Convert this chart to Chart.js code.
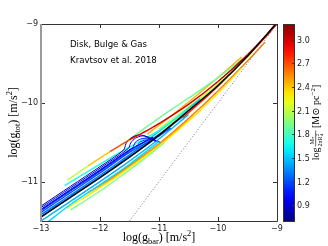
<!DOCTYPE html>
<html>
<head>
<meta charset="utf-8">
<script src="https://cdn.jsdelivr.net/npm/chart.js@4.4.1/dist/chart.umd.min.js"></script>
<style>
  body { margin: 0; background: #fff; }
</style>
</head>
<body>
<canvas id="rar" width="328" height="246"></canvas>
<script>
// axis ticks
const xTicks = [-13, -12, -11, -10, -9];
const yTicks = [-11, -10, -9];
const cbTicks = [0.9, 1.2, 1.5, 1.8, 2.1, 2.4, 2.7, 3.0];
const cMin = 0.7, cMax = 3.2;

// radial acceleration relation (black)
const rarX = [-13, -12.5, -12, -11.5, -11, -10.5, -10, -9.5, -9];
const rarY = [-11.45, -11.20, -10.95, -10.69, -10.41, -10.10, -9.78, -9.41, -8.98];

// upper line, coloured along its length
const upperX = [-12.55, -12.2, -11.83, -11.5, -11.1, -10.5, -10, -9.5, -9];
const upperY = [-10.98, -10.80, -10.62, -10.47, -10.31, -10.02, -9.73, -9.39, -9.0];
const upperC = [2.1, 2.4, 2.7, 2.9, 3.0, 3.0, 3.05, 3.1, 3.15];

// 1:1 line
const unityX = [-11.5, -9];
const unityY = [-11.5, -9];

// the coloured band of model curves
const bandC = [0.85, 0.95, 1.05, 1.15, 1.0, 1.2, 1.3, 1.38, 1.45, 1.55, 1.7, 1.5,
  1.9, 2.1, 2.2, 1.95, 2.3, 2.5, 2.6, 2.8, 2.45];
const bandX = [
  [-13, -12.5, -12, -11.6, -11.56, -11.48, -11.36, -11.24, -11.14],
  [-13, -12.5, -12, -11.52, -11.48, -11.40, -11.28, -11.16, -11.05],
  [-13, -12.5, -12, -11.45, -11.40, -11.31, -11.19, -11.06],
  [-13, -12.5, -12, -11.4, -11.32, -11.22, -11.1, -10.98],
  [-13, -12.5, -12, -11.5, -11.1],
  [-13, -12.5, -12, -11.5, -11, -10.8],
  [-13, -12.5, -12, -11.5, -11, -10.6],
  [-13, -12.5, -12, -11.5, -11, -10.7],
  [-13, -12.5, -12, -11.5, -11, -10.5],
  [-12.9, -12.5, -12, -11.5, -11],
  [-12.6, -12.2, -11.8, -11.4, -11, -10.5],
  [-11.5, -11.1, -10.7, -10.3],
  [-11.6, -11.2, -10.8, -10.4, -10, -9.6],
  [-11, -10.6, -10.2, -9.8, -9.4],
  [-11.4, -11, -10.6, -10.2, -9.8],
  [-12.5, -12.1, -11.7, -11.3, -10.9],
  [-12.56, -12.2, -11.8, -11.4, -11, -10.5, -10, -9.6],
  [-12.3, -11.9, -11.5, -11.1, -10.7, -10.3],
  [-12.2, -11.8, -11.4, -11, -10.5, -10, -9.5, -9.2],
  [-10.6, -10.2, -9.8, -9.4, -9.1],
  [-11.2, -10.8, -10.4, -10, -9.6]
];
const bandY = [
  [-11.31, -11.06, -10.81, -10.60, -10.52, -10.45, -10.41, -10.42, -10.46],
  [-11.33, -11.08, -10.83, -10.58, -10.51, -10.45, -10.42, -10.44, -10.48],
  [-11.35, -11.10, -10.85, -10.57, -10.50, -10.46, -10.45, -10.49],
  [-11.37, -11.12, -10.87, -10.56, -10.50, -10.47, -10.47, -10.50],
  [-11.36, -11.11, -10.86, -10.60, -10.44],
  [-11.39, -11.14, -10.89, -10.63, -10.42, -10.32],
  [-11.42, -11.17, -10.92, -10.66, -10.40, -10.18],
  [-11.44, -11.19, -10.94, -10.68, -10.42, -10.23],
  [-11.50, -11.25, -11.00, -10.74, -10.46, -10.15],
  [-11.52, -11.29, -11.04, -10.78, -10.49],
  [-11.05, -10.87, -10.69, -10.52, -10.35, -10.08],
  [-10.62, -10.42, -10.19, -9.95],
  [-10.52, -10.30, -10.09, -9.89, -9.68, -9.45],
  [-10.33, -10.11, -9.88, -9.63, -9.35],
  [-10.58, -10.37, -10.14, -9.90, -9.64],
  [-11.36, -11.17, -10.96, -10.74, -10.50],
  [-11.34, -11.17, -10.98, -10.77, -10.55, -10.23, -9.88, -9.56],
  [-11.22, -11.02, -10.81, -10.59, -10.35, -10.10],
  [-11.14, -10.95, -10.74, -10.52, -10.20, -9.85, -9.47, -9.23],
  [-10.19, -9.93, -9.64, -9.33, -9.09],
  [-10.40, -10.17, -9.93, -9.68, -9.42]
];

function jet(v) {
  const t = (v - cMin) / (cMax - cMin);
  const f = z => Math.max(0, Math.min(1, z));
  const r = f(1.5 - Math.abs(4 * t - 3));
  const g = f(1.5 - Math.abs(4 * t - 2));
  const b = f(1.5 - Math.abs(4 * t - 1));
  return 'rgb(' + Math.round(r * 255) + ',' + Math.round(g * 255) + ',' + Math.round(b * 255) + ')';
}

function pts(xs, ys) {
  return xs.map((v, i) => ({ x: v, y: ys[i] }));
}

const datasets = [];
datasets.push({ data: pts(rarX, rarY), borderColor: '#000', borderWidth: 1.5, order: 0 });
datasets.push({
  data: pts(upperX, upperY), borderWidth: 1.5, order: 1, borderColor: jet(3.0),
  segment: { borderColor: c => jet(upperC[c.p0DataIndex]) }
});
datasets.push({ data: pts(unityX, unityY), borderColor: '#777', borderWidth: 1, borderDash: [1, 2], order: 2 });
bandC.forEach((c, i) => {
  datasets.push({
    data: pts(bandX[i], bandY[i]), borderColor: jet(c),
    borderWidth: i < 4 ? 1 : 1.4, order: 3 + i
  });
});

const serif = "'Liberation Serif', 'DejaVu Serif', serif";
const sans = "'DejaVu Sans', sans-serif";

// draws text with sub/superscripts, centred at (cx, base)
function drawRich(ctx, parts, cx, base, size) {
  let w = 0;
  parts.forEach(p => {
    ctx.font = (p.s ? size * 0.7 : size) + 'px ' + serif;
    p.w = ctx.measureText(p.t).width;
    w += p.w;
  });
  let xx = cx - w / 2;
  ctx.textAlign = 'left';
  ctx.textBaseline = 'alphabetic';
  parts.forEach(p => {
    ctx.font = (p.s ? size * 0.7 : size) + 'px ' + serif;
    let dy = 0;
    if (p.s === 'sub') dy = size * 0.22;
    if (p.s === 'sup') dy = -size * 0.4;
    ctx.fillText(p.t, xx, base + dy);
    xx += p.w;
  });
}

const decor = {
  id: 'decor',
  afterDraw(chart) {
    const { ctx, chartArea: a, scales: { x, y } } = chart;
    const L = Math.round(a.left), R = Math.round(a.right), T = Math.round(a.top), B = Math.round(a.bottom);
    ctx.save();

    // inward ticks
    ctx.strokeStyle = '#333';
    ctx.lineWidth = 1;
    ctx.beginPath();
    xTicks.forEach(v => {
      const px = Math.round(x.getPixelForValue(v)) + 0.5;
      ctx.moveTo(px, B); ctx.lineTo(px, B - 4);
      ctx.moveTo(px, T); ctx.lineTo(px, T + 4);
    });
    yTicks.forEach(v => {
      const py = Math.round(y.getPixelForValue(v)) + 0.5;
      ctx.moveTo(L, py); ctx.lineTo(L + 4, py);
      ctx.moveTo(R, py); ctx.lineTo(R - 4, py);
    });
    ctx.stroke();

    // frame
    ctx.strokeStyle = '#333';
    ctx.beginPath();
    ctx.moveTo(L, T + 0.5); ctx.lineTo(R + 0.5, T + 0.5);
    ctx.lineTo(R + 0.5, B + 0.5); ctx.lineTo(L, B + 0.5);
    ctx.stroke();
    ctx.strokeStyle = '#999';
    ctx.lineWidth = 2;
    ctx.beginPath();
    ctx.moveTo(L, T); ctx.lineTo(L, B + 1);
    ctx.stroke();

    // labels in the plot
    ctx.fillStyle = '#000';
    ctx.font = '8.6px ' + sans;
    ctx.textAlign = 'left';
    ctx.textBaseline = 'middle';
    ctx.fillText('Disk, Bulge & Gas', 70, 44.5);
    ctx.fillText('Kravtsov et al. 2018', 70, 61);

    // axis titles
    drawRich(ctx, [{ t: 'log(g' }, { t: 'bar', s: 'sub' }, { t: ') [m/s' }, { t: '2', s: 'sup' }, { t: ']' }], (L + R) / 2, 241, 12);
    ctx.save();
    ctx.translate(13, (T + B) / 2);
    ctx.rotate(-Math.PI / 2);
    drawRich(ctx, [{ t: 'log(g' }, { t: 'tot', s: 'sub' }, { t: ') [m/s' }, { t: '2', s: 'sup' }, { t: ']' }], 0, 4, 12);
    ctx.restore();

    // colour bar
    const cbL = R + 6, cbR = R + 18;
    const grad = ctx.createLinearGradient(0, B, 0, T);
    for (let i = 0; i <= 20; i++) {
      grad.addColorStop(i / 20, jet(cMin + (cMax - cMin) * i / 20));
    }
    ctx.fillStyle = grad;
    ctx.fillRect(cbL, T, cbR - cbL, B - T);
    ctx.strokeStyle = '#333';
    ctx.lineWidth = 1;
    ctx.strokeRect(cbL + 0.5, T + 0.5, cbR - cbL - 1, B - T);
    ctx.fillStyle = '#222';
    ctx.font = '8px ' + sans;
    ctx.textAlign = 'left';
    ctx.textBaseline = 'middle';
    ctx.beginPath();
    cbTicks.forEach(v => {
      const py = Math.round(B - (v - cMin) / (cMax - cMin) * (B - T)) + 0.5;
      ctx.moveTo(cbR - 3, py); ctx.lineTo(cbR, py);
      ctx.fillText(v.toFixed(1), cbR + 2, py);
    });
    ctx.stroke();

    // colour bar title, reading bottom to top
    ctx.save();
    ctx.translate(316, (T + B) / 2);
    ctx.rotate(-Math.PI / 2);
    ctx.fillStyle = '#000';
    ctx.textBaseline = 'alphabetic';
    const fs = 10;
    ctx.font = fs + 'px ' + serif;
    const wLog = ctx.measureText('log').width;
    ctx.font = '6px ' + serif;
    const wDen = ctx.measureText('2πR').width + 6;
    ctx.font = fs + 'px ' + serif;
    const tail = ' [M\u2299 pc';
    const wTail = ctx.measureText(tail).width;
    ctx.font = '7px ' + serif;
    const wExp = ctx.measureText('\u22122').width;
    ctx.font = fs + 'px ' + serif;
    const wEnd = ctx.measureText(']').width;
    const total = wLog + 1 + wDen + wTail + wExp + wEnd;
    let xx = -total / 2;
    ctx.fillText('log', xx, 3);
    xx += wLog + 1;
    ctx.font = '6px ' + serif;
    ctx.fillText('M', xx + 2, -2);
    ctx.font = '5px ' + serif;
    ctx.fillText('*', xx + 7.5, -1);
    ctx.fillRect(xx, -0.5, wDen, 0.6);
    ctx.font = '6px ' + serif;
    ctx.fillText('2πR', xx, 5.5);
    const wR = ctx.measureText('2πR').width;
    ctx.font = '4.5px ' + serif;
    ctx.fillText('2', xx + wR + 0.5, 3);
    ctx.fillText('d', xx + wR + 0.5, 7);
    xx += wDen;
    ctx.font = fs + 'px ' + serif;
    ctx.fillText(tail, xx, 3);
    xx += wTail;
    ctx.font = '7px ' + serif;
    ctx.fillText('\u22122', xx, -1);
    xx += wExp;
    ctx.font = fs + 'px ' + serif;
    ctx.fillText(']', xx, 3);
    ctx.restore();

    ctx.restore();
  }
};

new Chart(document.getElementById('rar'), {
  type: 'scatter',
  data: { datasets: datasets },
  options: {
    responsive: false,
    animation: false,
    showLine: true,
    layout: { padding: { top: 24, right: 51, left: 0, bottom: 0 } },
    elements: { point: { radius: 0 }, line: { tension: 0.3, fill: false } },
    plugins: { legend: { display: false }, tooltip: { enabled: false } },
    scales: {
      x: {
        type: 'linear', min: -13, max: -9,
        grid: { display: false, drawTicks: false },
        border: { display: false },
        afterBuildTicks: s => { s.ticks = xTicks.map(v => ({ value: v })); },
        afterFit: s => { s.height = 25; },
        ticks: {
          padding: 3, color: '#222', font: { family: sans, size: 8 },
          maxRotation: 0,
          callback: v => String(v).replace('-', '\u2212')
        }
      },
      y: {
        type: 'linear', min: -11.5, max: -9,
        grid: { display: false, drawTicks: false },
        border: { display: false },
        afterBuildTicks: s => { s.ticks = yTicks.map(v => ({ value: v })); },
        afterFit: s => { s.width = 41; },
        ticks: {
          padding: 3, color: '#222', font: { family: sans, size: 8 },
          callback: v => String(v).replace('-', '\u2212')
        }
      }
    }
  },
  plugins: [decor]
});
</script>
</body>
</html>
